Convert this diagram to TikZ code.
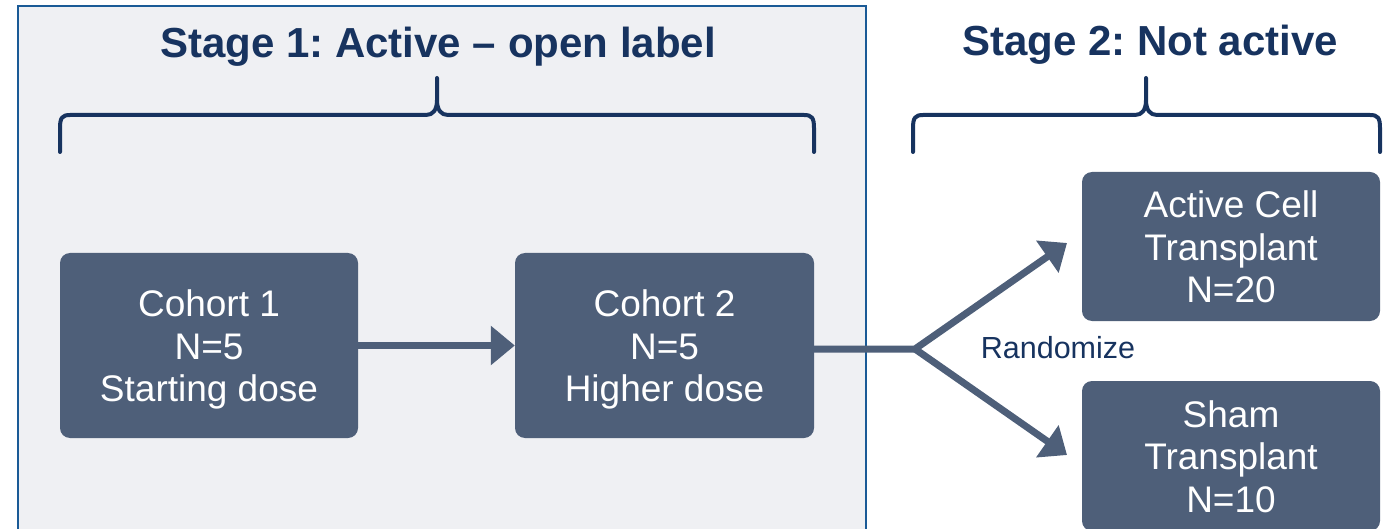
\documentclass[tikz,border=0pt]{standalone}
\usepackage{fontspec}
\setmainfont{Liberation Sans}
\usetikzlibrary{arrows.meta}
\frenchspacing
\definecolor{boxfill}{HTML}{4E5F79}
\definecolor{navy}{HTML}{17335F}
\definecolor{panelfill}{HTML}{EFF0F3}
\definecolor{panelline}{HTML}{1A5A96}
\tikzset{
  stagebox/.style={draw=none, fill=boxfill, rounded corners=10pt, text=white, align=center,
    font=\fontsize{37}{42.5}\selectfont, inner sep=0pt, text height=112pt, text depth=0pt},
  flow/.style={draw=boxfill, line width=7pt, line join=miter},
  flowarrow/.style={flow, -{Triangle[length=24pt,width=38pt]}},
  bracepath/.style={draw=navy, line width=4pt, line cap=round, line join=round},
  stagetitle/.style={text=navy, font=\fontsize{42}{48}\selectfont\bfseries, inner sep=0pt, anchor=base},
}
\begin{document}
\begin{tikzpicture}[x=1pt,y=-1pt]
\useasboundingbox (0,0) rectangle (1386,529);
\clip (0,0) rectangle (1386,529);
% panel
\path[fill=panelfill, draw=panelline, line width=2.5pt] (18,6) rectangle (866,560);
% titles
\node[stagetitle] (t1) at (438,58) {Stage 1: Active – open label};
\node[stagetitle] (t2) at (1150,56) {Stage 2: Not active};
% braces
\path[bracepath] (60,152) -- (60,128) .. controls (60,118) and (62,115) .. (70,115)
  -- (426,115) .. controls (433,115) and (437,110) .. (437,100) -- (437,78)
  (437,100) .. controls (437,110) and (441,115) .. (448,115)
  -- (804,115) .. controls (812,115) and (814,118) .. (814,128) -- (814,152);
\path[bracepath] (913,152) -- (913,128) .. controls (913,118) and (915,115) .. (923,115)
  -- (1135,115) .. controls (1142,115) and (1146,110) .. (1146,100) -- (1146,78)
  (1146,100) .. controls (1146,110) and (1150,115) .. (1157,115)
  -- (1370,115) .. controls (1378,115) and (1380,118) .. (1380,128) -- (1380,152);
% boxes
\node[stagebox, minimum width=298pt, minimum height=185pt] (c1) at (209,345.5) {Cohort 1\\N=5\\Starting dose};
\node[stagebox, minimum width=299pt, minimum height=185pt] (c2) at (664.5,345.5) {Cohort 2\\N=5\\Higher dose};
\node[stagebox, minimum width=298pt, minimum height=149pt] (act) at (1231,246.5) {Active Cell\\Transplant\\N=20};
\node[stagebox, minimum width=298pt, minimum height=150pt] (sham) at (1231,456) {Sham\\Transplant\\N=10};
% connectors
\coordinate (j) at (915,349);
\coordinate (tipA) at (1067,243);
\coordinate (tipS) at (1067,455);
\draw[flowarrow] (c1.east |- 0,345.5) -- (c2.west |- 0,345.5);
\draw[flowarrow] (c2.east |- j) -- (j) -- (tipA);
\draw[flowarrow] (j) -- (tipS);
\node[text=navy, font=\fontsize{30.5}{34}\selectfont, inner sep=0pt, anchor=base] (rand) at (1058,358) {Randomize};
\end{tikzpicture}
\end{document}
